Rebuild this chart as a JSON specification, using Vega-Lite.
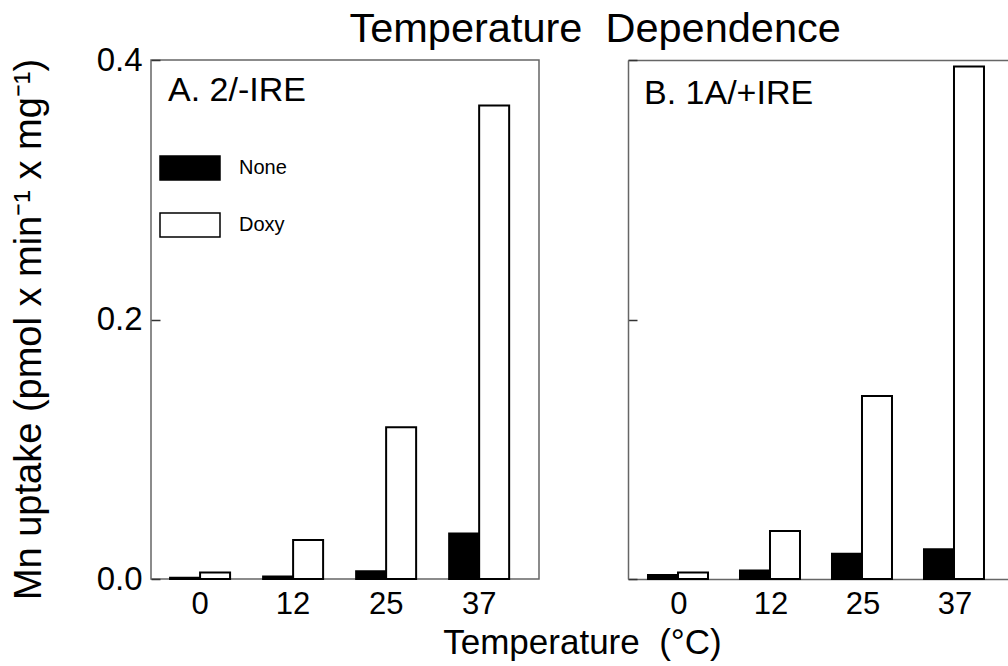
{
  "$schema": "https://vega.github.io/schema/vega-lite/v6.json",
  "padding": {"left": 9, "top": 8, "right": 0, "bottom": 0},
  "background": "white",
  "data": {
    "values": [
      {"panel": "A", "temp": "0", "treatment": "None", "value": 0.001},
      {"panel": "A", "temp": "0", "treatment": "Doxy", "value": 0.005},
      {"panel": "A", "temp": "12", "treatment": "None", "value": 0.002},
      {"panel": "A", "temp": "12", "treatment": "Doxy", "value": 0.030},
      {"panel": "A", "temp": "25", "treatment": "None", "value": 0.006},
      {"panel": "A", "temp": "25", "treatment": "Doxy", "value": 0.117},
      {"panel": "A", "temp": "37", "treatment": "None", "value": 0.035},
      {"panel": "A", "temp": "37", "treatment": "Doxy", "value": 0.365},
      {"panel": "B", "temp": "0", "treatment": "None", "value": 0.003},
      {"panel": "B", "temp": "0", "treatment": "Doxy", "value": 0.005},
      {"panel": "B", "temp": "12", "treatment": "None", "value": 0.0065},
      {"panel": "B", "temp": "12", "treatment": "Doxy", "value": 0.037},
      {"panel": "B", "temp": "25", "treatment": "None", "value": 0.0195},
      {"panel": "B", "temp": "25", "treatment": "Doxy", "value": 0.141},
      {"panel": "B", "temp": "37", "treatment": "None", "value": 0.023},
      {"panel": "B", "temp": "37", "treatment": "Doxy", "value": 0.395}
    ]
  },
  "title": {
    "text": "Temperature \u00a0Dependence",
    "fontSize": 41.5,
    "font": "Liberation Sans",
    "fontWeight": "normal",
    "color": "black",
    "anchor": "middle",
    "dx": 86,
    "offset": -7
  },
  "spacing": 89,
  "bounds": "flush",
  "config": {
    "font": "Liberation Sans",
    "view": {"stroke": "#666666", "strokeWidth": 1.5},
    "axis": {
      "labelColor": "black",
      "titleColor": "black",
      "labelFont": "Liberation Sans",
      "titleFont": "Liberation Sans",
      "titleFontWeight": "normal",
      "grid": false
    },
    "title": {"fontWeight": "normal", "color": "black"}
  },
  "hconcat": [
    {
      "width": 388,
      "height": 519,
      "transform": [{"filter": "datum.panel === 'A'"}],
      "title": {
        "text": "A. 2/-IRE",
        "anchor": "start",
        "frame": "group",
        "fontSize": 34,
        "baseline": "alphabetic",
        "offset": -91,
        "dx": 17
      },
      "mark": {"type": "bar", "stroke": "black", "strokeWidth": 2},
      "encoding": {
        "x": {
          "field": "temp",
          "type": "ordinal",
          "sort": ["0", "12", "25", "37"],
          "scale": {"paddingInner": 0.355, "paddingOuter": 0.263, "align": 0.39},
          "axis": {
            "title": "Temperature \u00a0(°C)",
            "titleX": 431,
            "titleY": 74,
            "titleAlign": "center",
            "titleBaseline": "alphabetic",
            "titleFontSize": 35,
            "labelFontSize": 31,
            "labelAngle": 0,
            "ticks": false,
            "domain": false,
            "labelPadding": 10
          }
        },
        "xOffset": {
          "field": "treatment",
          "type": "nominal",
          "sort": ["None", "Doxy"],
          "scale": {"paddingInner": 0, "paddingOuter": 0}
        },
        "y": {
          "field": "value",
          "type": "quantitative",
          "scale": {"domain": [0, 0.4], "nice": false},
          "axis": {
            "values": [0, 0.2, 0.4],
            "format": ".1f",
            "title": "Mn uptake (pmol x min⁻¹ x mg⁻¹)",
            "titleFontSize": 38,
            "titleAngle": -90,
            "titleX": -111,
            "titleY": 269,
            "titleAlign": "center",
            "titleBaseline": "alphabetic",
            "labelFontSize": 33,
            "labelPadding": 18,
            "tickSize": -9,
            "tickColor": "#333333",
            "tickWidth": 1.5,
            "domain": false
          }
        },
        "fill": {
          "field": "treatment",
          "type": "nominal",
          "scale": {"domain": ["None", "Doxy"], "range": ["black", "white"]},
          "legend": {
            "orient": "none",
            "legendX": 23,
            "legendY": 92,
            "title": null,
            "symbolType": "M-2,-0.8H2V0.8H-2Z",
            "symbolSize": 900,
            "symbolStrokeColor": "black",
            "symbolStrokeWidth": 1.5,
            "labelFont": "Liberation Sans",
            "labelFontSize": 20,
            "labelColor": "black",
            "labelOffset": 33,
            "rowPadding": 26
          }
        }
      }
    },
    {
      "width": 381,
      "height": 519,
      "view": {"stroke": null},
      "transform": [{"filter": "datum.panel === 'B'"}],
      "title": {
        "text": "B. 1A/+IRE",
        "anchor": "start",
        "frame": "group",
        "fontSize": 34,
        "baseline": "alphabetic",
        "offset": -79,
        "dx": 16
      },
      "mark": {"type": "bar", "stroke": "black", "strokeWidth": 2},
      "encoding": {
        "x": {
          "field": "temp",
          "type": "ordinal",
          "sort": ["0", "12", "25", "37"],
          "scale": {"paddingInner": 0.326, "paddingOuter": 0.2337, "align": 0.465},
          "axis": {
            "title": null,
            "labelFontSize": 31,
            "labelAngle": 0,
            "ticks": false,
            "domain": true,
            "domainColor": "#666666",
            "domainWidth": 1.5,
            "labelPadding": 10
          }
        },
        "xOffset": {
          "field": "treatment",
          "type": "nominal",
          "sort": ["None", "Doxy"],
          "scale": {"paddingInner": 0, "paddingOuter": 0}
        },
        "y": {
          "field": "value",
          "type": "quantitative",
          "scale": {"domain": [0, 0.4], "nice": false},
          "axis": {
            "values": [0, 0.2, 0.4],
            "title": null,
            "labels": false,
            "tickSize": -9,
            "tickColor": "#333333",
            "tickWidth": 1.5,
            "domain": true,
            "domainColor": "#666666",
            "domainWidth": 1.5,
            "grid": true,
            "gridWidth": 1.5,
            "gridColor": {"condition": {"test": "datum.value >= 0.39", "value": "#666666"}, "value": "transparent"}
          }
        },
        "fill": {
          "field": "treatment",
          "type": "nominal",
          "scale": {"domain": ["None", "Doxy"], "range": ["black", "white"]}
        }
      }
    }
  ]
}
